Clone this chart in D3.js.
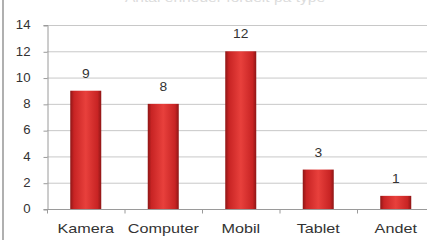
<!DOCTYPE html>
<html><head><meta charset="utf-8">
<script src="https://cdn.jsdelivr.net/npm/d3@7"></script>
<style>body{margin:0;background:#fff;overflow:hidden}svg{display:block}</style>
</head><body>
<script>
const categories = ["Kamera","Computer","Mobil","Tablet","Andet"];
const values = [9,8,12,3,1];
const yTicks = [0,2,4,6,8,10,12,14];
const title = "Antal enheder fordelt på type";

const W=427,H=240;
const FONT="Liberation Sans, sans-serif";
const svg=d3.select("body").append("svg").attr("width",W).attr("height",H);
const defs=svg.append("defs");
const g=defs.append("linearGradient").attr("id","bar").attr("x1","0").attr("x2","1");
[[0,"#8e1616"],[0.12,"#c82424"],[0.5,"#e8403c"],[0.88,"#c82424"],[1,"#8e1616"]].forEach(s=>g.append("stop").attr("offset",s[0]).attr("stop-color",s[1]));

// chart border left
svg.append("rect").attr("x",2).attr("y",0).attr("width",2).attr("height",H).attr("fill","#b0b0b0");
svg.append("text").attr("transform","translate(225,1.5) scale(1.3,1)").attr("text-anchor","middle")
  .attr("font-family",FONT).attr("font-size",12).attr("fill","#dcdcdc").text(title);

const x=d3.scaleBand().domain(categories).range([47,434.5]).paddingInner(0.6).paddingOuter(0.3);
const y=d3.scaleLinear().domain([0,14]).range([209,25]);

// gridlines
svg.append("g").selectAll("line").data(yTicks.filter(d=>d>0)).join("line")
  .attr("x1",47).attr("x2",W).attr("y1",d=>y(d)+0.5).attr("y2",d=>y(d)+0.5)
  .attr("stroke","#c8c8c8").attr("stroke-width",1);

// y axis
const ya=svg.append("g").attr("transform","translate(47.5,0)")
  .call(d3.axisLeft(y).tickValues(yTicks).tickSize(4).tickPadding(0));
ya.select(".domain").attr("stroke","#9a9a9a");
ya.selectAll(".tick line").attr("stroke","#9a9a9a").attr("transform","translate(0,0.5)");
ya.selectAll("text").attr("x",null).attr("transform","translate(-17,0) scale(1.1,1)")
  .attr("font-family",FONT).attr("font-size",12).attr("fill","#333");

// bars
svg.append("g").selectAll("rect").data(values).join("rect")
  .attr("x",(d,i)=>x(categories[i])).attr("width",x.bandwidth())
  .attr("y",d=>y(d)).attr("height",d=>y(0)-y(d)).attr("fill","url(#bar)");

// x axis
const step=x.step();
const xa=svg.append("g").attr("transform","translate(0,209.5)");
xa.append("line").attr("x1",47).attr("x2",W).attr("stroke","#9a9a9a");
xa.selectAll(".tk").data(d3.range(0,6)).join("line").attr("class","tk")
  .attr("x1",i=>47.5+i*step).attr("x2",i=>47.5+i*step).attr("y1",0).attr("y2",4).attr("stroke","#9a9a9a");
xa.selectAll("text").data(categories).join("text")
  .attr("transform",d=>`translate(${x(d)+x.bandwidth()/2},23) scale(1.35,1)`).attr("text-anchor","middle")
  .attr("font-family",FONT).attr("font-size",12).attr("fill","#333").text(d=>d);

// value labels
svg.append("g").selectAll("text").data(values).join("text")
  .attr("transform",(d,i)=>`translate(${x(categories[i])+x.bandwidth()/2},${y(d)-13}) scale(1.15,1)`).attr("text-anchor","middle")
  .attr("font-family",FONT).attr("font-size",12).attr("fill","#333").text(d=>d);
</script>
</body></html>
